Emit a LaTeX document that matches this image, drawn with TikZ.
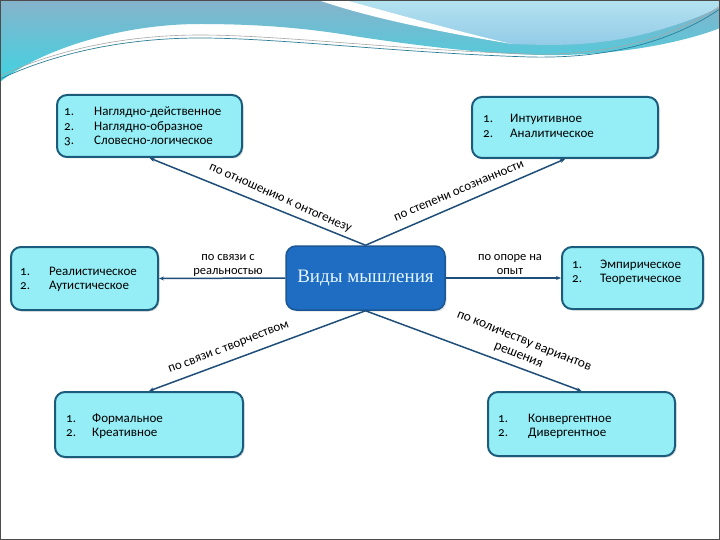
\documentclass[tikz,border=0pt]{standalone}
\usepackage{fontspec}
\setmainfont{Carlito}[Numbers=OldStyle]
\newfontfamily\titlefont{Liberation Serif}
\usetikzlibrary{arrows.meta,shadows}
\definecolor{boxfill}{HTML}{95EEF6}
\definecolor{boxline}{HTML}{1B5C7C}
\definecolor{ctrfill}{HTML}{1E6DC2}
\definecolor{ctrline}{HTML}{1A5794}
\definecolor{conn}{HTML}{1F4E79}
\definecolor{bandtop}{HTML}{86B3CB}
\definecolor{bandbot}{HTML}{3FD3E1}
\definecolor{lighttop}{HTML}{B4E2F0}
\definecolor{lightbot}{HTML}{92CBE7}
\definecolor{thinline}{HTML}{2C7E96}
\definecolor{titletext}{HTML}{E6F6FF}
\tikzset{
  catbox/.style={draw=boxline, line width=2pt, fill=boxfill, rounded corners=10pt,
    drop shadow={shadow xshift=1.5pt, shadow yshift=-1.5pt, opacity=0.25}},
  ctrbox/.style={draw=ctrline, line width=1.5pt, fill=ctrfill, rounded corners=10pt,
    drop shadow={shadow xshift=1.5pt, shadow yshift=-1.5pt, opacity=0.25},
    text=titletext, font=\titlefont\fontsize{19}{21}\selectfont},
  conn/.style={draw=conn, line width=1.5pt, -{Stealth[length=5pt,width=4pt]}},
  lbl/.style={font=\fontsize{12.5}{14}\selectfont, inner sep=0pt, align=center, text=black},
  rlbl/.style={font=\fontsize{13}{14.5}\selectfont, inner sep=0pt, align=center, text=black},
  num/.style={font=\fontsize{13}{14}\selectfont, inner sep=0pt, anchor=base west, text=black},
  item/.style={font=\fontsize{13}{14}\selectfont, inner sep=0pt, anchor=base west, text=black}
}
\begin{document}
\begin{tikzpicture}[x=1pt,y=-1pt]
\useasboundingbox (0,0) rectangle (720,540);
\fill[white] (0,0) rectangle (720,540);
% decorative top band
\shade[top color=bandtop, bottom color=bandbot]
  (0,0) -- (720,0) -- (720,28) .. controls (690,40) and (630,54) .. (560,55)
  .. controls (500,56) and (420,46) .. (360,37) .. controls (330,32) and (280,24) .. (200,24)
  .. controls (120,24) and (40,50) .. (0,82) -- cycle;
\shade[top color=lighttop, bottom color=lightbot]
  (345,0) -- (720,0) -- (720,7) .. controls (690,22) and (640,38) .. (600,42)
  .. controls (570,46) and (540,45) .. (512,44) .. controls (460,32) and (400,15) .. (345,0) -- cycle;
\fill[white] (318,0) -- (345,0) .. controls (400,15) and (460,32) .. (512,44)
  .. controls (440,32) and (370,18) .. (318,0) -- cycle;
\draw[thinline, line width=0.7pt] (0,79) .. controls (60,51) and (130,38) .. (200,38)
  .. controls (280,38) and (400,53) .. (530,57) .. controls (620,59) and (680,36) .. (720,9);
\draw[gray!70, line width=0.6pt] (0,76) .. controls (60,48) and (130,35) .. (200,35)
  .. controls (280,35) and (400,50) .. (530,54) .. controls (620,56) and (680,33) .. (720,6);
\draw[gray!60!black, line width=1pt] (0.5,0.5) rectangle (719.5,539.5);

% boxes
\node[ctrbox, minimum width=159pt, minimum height=64pt] (ctr) at (365.5,278) {Виды мышления};
\node[catbox, minimum width=185pt, minimum height=62pt] (tl) at (149.5,126) {};
\node[catbox, minimum width=186pt, minimum height=61pt] (tr) at (565,127.5) {};
\node[catbox, minimum width=147pt, minimum height=63pt] (lt) at (84.5,278.5) {};
\node[catbox, minimum width=141pt, minimum height=62pt] (rt) at (632.5,278) {};
\node[catbox, minimum width=188pt, minimum height=65pt] (bl) at (149,424.5) {};
\node[catbox, minimum width=187pt, minimum height=64pt] (br) at (581.5,424) {};

% connectors
\draw[conn] (ctr.north) -- (tl.south);
\draw[conn] (ctr.north) -- (tr.south);
\draw[conn] (ctr.west) -- (lt.east);
\draw[conn] (ctr.east) -- (rt.west);
\draw[conn] (ctr.south) -- (bl.north);
\draw[conn] (ctr.south) -- (br.north);

% connector labels
\node[rlbl, rotate=-24] (l1) at (280,199) {по отношению к онтогенезу};
\node[rlbl, rotate=23] (l2) at (459,191) {по степени осознанности};
\node[lbl] (l3) at (228,265) {по связи с\\реальностью};
\node[lbl] (l4) at (510,265) {по опоре на\\опыт};
\node[rlbl, rotate=21] (l5) at (229,348) {по связи с творчеством};
\node[rlbl, font=\fontsize{13.5}{15}\selectfont, rotate=-22] (l6) at (521,349) {по количеству вариантов\\решения};

% list texts (baselines)
\node[num] (tl1n) at (64,116) {1.};
\node[item] (tl1) at (94,116) {Наглядно-действенное};
\node[num] (tl2n) at (64,131) {2.};
\node[item] (tl2) at (94,131) {Наглядно-образное};
\node[num] (tl3n) at (64,145) {3.};
\node[item] (tl3) at (94,145) {Словесно-логическое};

\node[num] (tr1n) at (483,123) {1.};
\node[item] (tr1) at (510,123) {Интуитивное};
\node[num] (tr2n) at (483,138) {2.};
\node[item] (tr2) at (510,138) {Аналитическое};

\node[num] (lt1n) at (20,275) {1.};
\node[item] (lt1) at (49,275) {Реалистическое};
\node[num] (lt2n) at (20,289) {2.};
\node[item] (lt2) at (49,289) {Аутистическое};

\node[num] (rt1n) at (572,268) {1.};
\node[item] (rt1) at (600,268) {Эмпирическое};
\node[num] (rt2n) at (572,282) {2.};
\node[item] (rt2) at (600,282) {Теоретическое};

\node[num] (bl1n) at (66,422) {1.};
\node[item] (bl1) at (92,422) {Формальное};
\node[num] (bl2n) at (66,436) {2.};
\node[item] (bl2) at (92,436) {Креативное};

\node[num] (br1n) at (498,422) {1.};
\node[item] (br1) at (528,422) {Конвергентное};
\node[num] (br2n) at (498,436) {2.};
\node[item] (br2) at (528,436) {Дивергентное};
\end{tikzpicture}
\end{document}
